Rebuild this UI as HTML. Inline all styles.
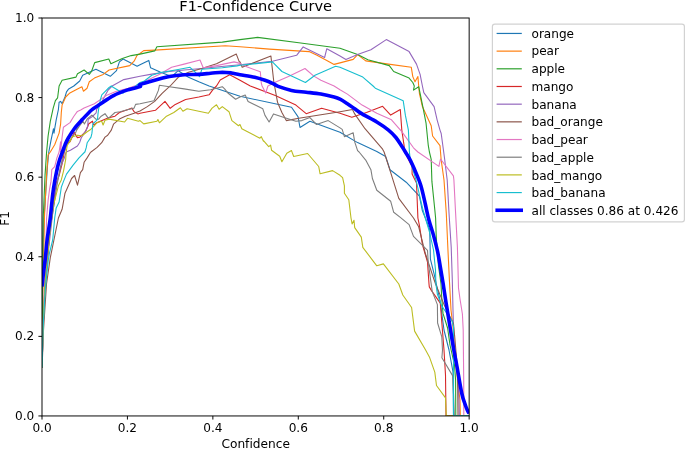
<!DOCTYPE html>
<html lang="en"><head><meta charset="utf-8"><title>F1-Confidence Curve</title>
<style>html,body{margin:0;padding:0;background:#fff;}body{width:685px;height:449px;overflow:hidden;}svg{display:block;}text{font-family:"DejaVu Sans","Liberation Sans",sans-serif;fill:#000;font-variant-ligatures:none;font-feature-settings:"liga" 0,"clig" 0;}</style></head><body>
<svg width="685" height="449" viewBox="0 0 685 449">
<rect width="685" height="449" fill="#fff"/>
<defs><clipPath id="ax"><rect x="42.00" y="18.00" width="427.15" height="397.95"/></clipPath></defs>
<g clip-path="url(#ax)" fill="none" stroke-linejoin="round" stroke-linecap="square">
<polyline points="42.1,367.0 42.3,330.0 42.7,284.0 43.4,240.0 44.0,218.0 44.1,218.0 47.4,166.7 48.8,152.0 48.8,152.0 51.0,140.4 53.5,128.7 54.0,133.1 54.7,128.7 56.2,119.8 58.4,109.5 59.1,102.2 60.6,101.4 62.1,103.7 65.0,97.0 66.5,91.9 68.7,88.9 73.8,86.0 73.8,86.0 79.7,81.0 82.7,75.2 95.9,69.3 110.3,76.3 116.5,70.7 119.4,61.9 123.1,59.0 137.1,66.3 140.0,64.8 148.8,60.4 150.6,67.8 160.6,72.2 171.6,76.6 178.2,70.7 188.5,77.3 198.8,81.8 209.1,86.0 240.0,96.3 291.5,107.3 298.1,116.9 300.0,127.5 309.9,121.3 340.0,132.3 357.6,142.6 376.8,151.4 385.6,156.4 390.0,169.7 406.2,182.2 419.4,196.1 422.4,210.8 425.3,218.0 429.7,229.8 430.4,259.2 434.1,273.9 436.3,284.0 440.0,300.0 444.0,330.0 449.0,350.0 453.0,372.0 453.5,415.9 469.1,415.9" stroke="#1f77b4" stroke-width="1.1"/>
<polyline points="42.1,367.0 42.4,330.0 43.0,284.0 44.0,240.0 44.4,218.0 44.4,218.0 46.6,174.1 48.1,154.9 50.3,152.0 50.3,152.0 54.7,144.8 59.1,133.1 60.6,124.2 61.3,112.5 62.1,105.1 65.7,97.0 69.4,93.3 77.5,88.9 81.9,86.7 83.4,91.2 87.1,88.2 87.8,86.0 87.8,86.0 89.3,81.8 94.4,78.1 103.2,74.4 109.1,70.0 129.7,65.6 134.1,61.2 137.1,55.3 140.0,53.5 143.7,50.6 154.7,50.1 225.3,45.7 240.0,46.8 269.4,49.1 309.1,51.6 316.5,55.0 326.8,60.4 334.1,64.4 340.0,62.9 353.2,59.4 357.6,54.6 365.7,60.9 388.5,64.1 411.3,67.3 412.8,76.6 415.0,81.8 417.9,76.6 418.7,86.0 419.4,93.3 422.4,106.6 431.2,125.7 432.6,136.0 440.0,145.6 441.2,160.2 444.0,180.0 446.3,213.4 447.8,246.8 449.4,280.0 451.0,310.0 453.0,327.0 454.0,345.0 457.5,380.0 460.0,400.0 460.3,415.9 469.1,415.9" stroke="#ff7f0e" stroke-width="1.1"/>
<polyline points="42.1,367.0 42.2,330.0 42.4,284.0 42.8,240.0 43.2,218.0 43.2,218.0 45.1,174.1 46.6,152.0 46.6,152.0 48.1,136.0 50.3,121.3 53.2,108.1 55.4,100.7 57.6,97.8 59.1,86.0 59.1,86.0 62.1,80.3 76.0,77.1 77.5,73.7 84.1,70.0 89.3,74.4 91.5,71.5 94.7,62.6 108.8,59.0 110.9,63.7 122.3,58.5 131.2,55.6 140.0,54.1 154.7,50.9 156.9,46.8 222.3,42.1 240.0,39.6 257.6,37.4 298.8,42.8 340.0,48.2 357.6,54.6 367.9,59.7 389.3,65.6 393.7,71.5 409.1,78.1 412.8,82.5 414.3,86.0 413.5,90.1 418.7,86.7 420.1,93.3 423.1,108.1 426.0,122.8 428.2,144.8 429.4,152.0 431.2,159.3 431.9,181.4 434.9,210.8 435.6,218.0 436.2,235.6 437.2,251.0 438.5,266.0 441.0,284.0 441.8,298.7 443.0,313.4 447.6,328.0 450.0,345.0 454.5,365.0 455.6,380.0 455.8,415.9 469.1,415.9" stroke="#2ca02c" stroke-width="1.1"/>
<polyline points="42.1,367.0 43.0,330.0 45.0,284.0 50.0,230.0 56.0,185.0 56.2,182.9 59.1,175.5 62.1,163.8 64.3,152.0 67.2,143.3 67.6,143.2 70.0,141.8 74.2,132.4 77.4,137.6 79.8,137.1 84.9,132.4 87.7,126.8 88.6,124.0 92.4,121.2 93.8,125.0 96.1,123.1 105.0,119.3 109.1,117.6 115.0,116.2 119.4,112.5 128.2,109.5 131.9,108.1 134.1,111.7 137.8,113.9 140.0,113.2 155.4,110.3 165.0,101.4 170.2,108.3 175.3,104.4 185.6,99.5 198.8,97.0 209.1,94.8 213.5,88.9 216.5,86.0 220.2,80.0 229.7,74.7 240.0,80.3 250.3,86.0 275.3,95.6 295.9,105.1 306.2,113.7 321.6,108.3 340.0,113.2 351.8,117.2 366.5,112.5 382.6,106.3 390.7,115.1 400.3,109.5 401.8,130.1 404.0,144.8 404.7,152.0 412.1,166.7 412.1,174.1 416.5,182.9 417.2,200.5 417.9,218.0 419.4,225.3 422.4,244.5 427.5,262.1 429.0,284.0 429.3,286.9 431.5,290.6 440.3,303.1 441.8,322.2 444.0,350.0 445.5,375.0 446.0,415.9 469.1,415.9" stroke="#d62728" stroke-width="1.1"/>
<polyline points="42.1,367.0 43.0,330.0 45.0,290.0 48.5,250.0 52.5,215.0 56.5,185.0 60.5,167.0 64.3,158.0 66.2,152.0 70.4,150.2 77.4,146.0 79.8,142.2 81.2,138.0 84.0,133.4 86.3,130.1 87.7,125.9 88.2,119.3 92.4,116.5 96.1,112.8 96.6,110.0 96.6,109.5 101.8,102.2 104.7,96.3 107.9,90.4 112.1,86.0 112.1,86.0 123.8,79.6 140.0,76.2 151.8,74.1 169.4,71.5 184.1,70.0 198.8,68.8 213.5,67.3 240.0,64.8 272.4,61.2 296.6,55.3 303.2,46.9 324.6,57.5 326.8,48.7 340.0,56.0 345.9,59.4 357.6,54.6 370.9,49.7 386.3,39.6 409.1,51.6 416.5,64.1 420.1,74.4 422.4,86.0 423.8,92.6 434.1,106.6 437.1,119.8 440.0,130.1 441.2,133.5 444.5,158.0 447.2,180.0 449.0,213.0 451.2,247.0 452.3,280.0 453.0,310.0 454.0,345.0 458.0,380.0 459.0,400.0 459.3,415.9 469.1,415.9" stroke="#9467bd" stroke-width="1.1"/>
<polyline points="42.1,367.0 43.5,330.0 46.5,284.0 50.3,257.7 58.4,218.0 58.4,218.0 62.1,209.3 65.0,193.2 71.6,178.5 74.6,175.5 77.5,185.1 80.4,172.6 82.7,169.7 84.1,162.3 87.1,157.9 90.7,152.0 90.7,152.0 91.0,152.0 97.1,147.4 101.7,142.7 105.0,137.1 107.7,135.3 111.3,130.1 113.5,124.2 119.4,119.1 125.3,116.2 134.1,113.2 140.0,111.0 147.3,106.6 154.7,101.4 162.1,93.3 169.4,86.7 170.2,86.0 178.2,77.3 188.5,72.2 201.8,68.5 216.5,63.8 236.3,54.1 239.3,61.9 240.0,61.9 242.2,67.3 270.9,56.0 273.8,81.8 274.6,86.0 277.5,102.2 281.9,112.5 286.3,120.6 298.8,118.3 340.0,111.7 352.5,109.5 354.7,113.9 365.0,128.7 382.6,149.2 384.1,152.0 390.7,172.6 398.8,198.3 413.5,218.0 418.7,226.8 425.3,253.3 434.1,279.8 435.6,284.0 437.4,288.4 444.7,306.1 453.5,323.7 455.0,340.0 457.5,370.0 458.0,415.9 469.1,415.9" stroke="#8c564b" stroke-width="1.1"/>
<polyline points="42.1,367.0 43.0,330.0 44.5,284.0 45.9,247.4 46.6,218.0 46.6,218.0 48.1,200.5 49.6,188.8 51.0,181.4 51.8,169.7 54.7,166.7 56.9,157.9 59.1,152.0 59.1,152.0 60.6,141.9 60.6,152.0 62.0,138.0 63.4,127.3 70.0,122.6 73.7,116.5 77.4,111.4 80.7,110.0 84.1,108.1 94.4,103.7 106.2,95.6 116.5,91.2 128.2,88.2 140.0,84.0 147.3,80.3 159.1,74.4 171.6,67.3 184.1,64.1 200.0,60.0 203.2,67.8 216.5,65.6 234.1,61.9 240.0,63.4 247.3,67.1 260.3,71.8 261.3,83.2 262.1,86.0 265.7,93.1 267.9,86.0 274.6,82.5 288.5,76.6 305.0,68.5 313.5,75.9 320.9,80.3 334.1,86.0 340.0,89.7 347.4,94.1 362.1,105.1 376.8,113.2 391.5,119.8 401.8,131.6 413.5,147.8 417.9,152.0 438.9,166.4 440.5,159.0 453.4,175.8 453.9,180.0 455.6,213.0 457.4,247.0 458.3,280.0 458.5,288.0 460.0,299.0 462.4,314.0 463.2,330.0 463.4,350.0 463.7,380.0 463.8,415.9 469.1,415.9" stroke="#e377c2" stroke-width="1.1"/>
<polyline points="42.1,367.0 43.0,330.0 45.0,284.0 50.0,230.0 57.0,185.0 63.0,155.0 67.9,141.9 69.0,140.8 70.4,139.9 73.2,135.7 76.0,132.0 77.0,127.8 76.7,130.1 79.5,125.9 83.0,121.2 84.4,124.0 87.2,118.9 91.9,115.1 96.1,119.3 98.5,119.3 100.8,116.5 105.0,113.7 108.4,118.3 115.0,112.5 120.2,111.7 128.2,109.5 134.1,108.1 135.6,104.4 140.0,103.7 154.0,100.7 158.4,90.4 159.4,85.3 169.4,86.7 184.1,88.9 198.8,91.2 210.6,89.7 222.3,86.7 224.6,88.9 228.2,93.3 235.6,99.2 240.0,97.0 245.2,95.1 248.1,101.4 262.8,108.8 265.0,115.4 269.1,122.0 273.5,113.9 284.1,117.6 295.9,121.3 301.8,120.6 309.9,117.6 316.5,124.5 328.2,120.6 340.0,127.9 342.2,129.4 344.4,136.7 353.2,132.8 354.7,141.9 357.6,150.7 359.1,152.0 365.7,160.1 370.9,169.7 372.4,178.5 376.8,190.2 390.7,201.3 393.7,212.3 400.3,217.4 409.1,224.6 413.5,236.4 427.5,250.3 428.2,262.1 431.2,284.0 432.2,291.4 437.4,304.6 437.6,323.0 441.8,336.9 442.5,350.0 441.9,357.8 452.6,375.6 453.5,393.5 454.4,415.9 469.1,415.9" stroke="#7f7f7f" stroke-width="1.1"/>
<polyline points="42.1,367.0 43.0,330.0 45.0,284.0 49.0,240.0 53.2,206.4 55.4,197.6 58.4,185.8 61.3,179.9 63.5,171.1 65.7,159.3 66.2,152.0 67.2,145.5 70.4,140.8 71.8,137.1 77.4,135.2 82.1,135.7 86.8,132.0 91.0,129.2 94.2,125.9 96.6,123.1 99.9,121.7 101.7,121.2 103.1,125.0 105.0,120.3 109.1,119.1 124.6,122.0 127.5,118.3 138.5,121.3 140.0,120.6 143.7,123.9 156.9,121.3 157.9,119.5 159.4,122.8 166.5,116.2 173.8,112.5 180.4,107.8 182.9,111.3 187.1,108.8 198.8,111.3 208.4,113.2 212.1,108.1 216.5,104.8 219.1,109.2 222.3,106.6 229.0,111.7 231.9,120.6 238.5,125.7 240.0,124.5 241.8,128.7 259.9,138.2 261.3,136.7 263.5,141.2 263.5,140.7 268.7,146.6 270.6,145.2 271.6,150.3 279.7,156.2 281.9,161.8 286.8,153.2 291.5,150.6 293.7,156.5 307.6,153.5 318.7,166.5 320.1,173.8 332.6,170.6 340.0,175.3 342.6,177.7 344.4,185.8 344.4,193.2 348.8,199.8 351.0,218.0 352.1,223.9 354.0,220.2 354.7,227.6 361.3,237.1 362.8,247.4 376.8,265.8 383.4,263.9 398.8,284.0 402.8,295.0 411.6,307.5 414.6,331.1 425.6,350.0 429.4,356.9 434.8,372.1 436.5,385.5 445.5,397.9 446.3,415.9 469.1,415.9" stroke="#bcbd22" stroke-width="1.1"/>
<polyline points="42.1,367.0 43.0,330.0 45.2,290.0 47.2,270.0 48.3,260.0 49.4,253.4 52.7,240.0 54.7,218.0 54.7,218.0 56.2,207.9 59.1,202.0 61.3,187.3 63.5,181.4 66.5,174.1 73.1,165.2 79.0,157.9 84.8,152.0 84.8,152.0 84.9,152.0 86.3,147.4 87.2,142.7 91.0,137.1 91.9,133.4 92.4,128.7 92.8,124.0 96.1,120.8 97.5,119.3 98.0,113.7 98.5,110.0 100.3,100.0 101.8,94.8 109.1,87.5 111.3,86.0 113.5,87.5 123.1,93.3 124.6,91.2 131.2,89.7 140.0,82.5 144.4,81.0 151.8,75.2 159.1,72.9 176.8,69.7 190.0,67.3 195.2,72.2 199.6,76.6 201.8,69.3 222.3,67.8 237.1,65.9 240.0,65.3 272.4,61.9 281.9,71.5 305.4,82.5 315.0,75.2 335.6,66.3 340.0,67.3 362.8,77.1 373.1,86.0 375.3,88.2 403.2,100.7 405.4,115.4 408.4,130.1 409.4,152.0 409.9,156.4 411.5,165.0 416.0,180.0 423.0,210.0 429.5,232.0 433.5,250.0 435.5,270.0 435.9,284.0 437.4,294.3 441.8,306.1 452.1,320.8 453.5,326.6 453.5,340.0 453.5,415.9 469.1,415.9" stroke="#17becf" stroke-width="1.1"/>
<path d="M42.0,286.5 C42.2,284.3 42.8,278.5 43.4,273.5 C44.0,268.5 44.9,262.3 45.5,256.7 C46.1,251.1 46.3,246.4 47.1,240.0 C47.9,233.6 49.4,225.3 50.3,218.0 C51.2,210.7 51.8,202.2 52.5,196.1 C53.2,190.0 53.7,186.8 54.7,181.4 C55.7,176.0 57.1,168.7 58.4,163.8 C59.7,158.9 61.2,155.2 62.4,152.0 C63.5,148.8 64.1,146.9 65.1,144.6 C66.1,142.3 66.7,140.7 68.3,138.0 C69.8,135.4 72.0,131.8 74.3,128.7 C76.7,125.6 79.6,122.5 82.5,119.3 C85.4,116.2 88.9,112.4 91.6,110.0 C94.4,107.6 95.2,107.5 98.8,105.1 C102.5,102.7 108.6,98.1 113.5,95.6 C118.4,93.0 123.8,91.2 128.2,89.7 C132.7,88.2 138.0,87.6 140.0,86.7 C142.0,85.9 137.5,85.8 140.0,84.7 C142.5,83.6 149.8,81.6 154.7,80.3 C159.6,78.9 164.5,77.6 169.4,76.6 C174.3,75.7 179.2,75.1 184.1,74.7 C189.0,74.3 194.4,74.7 198.8,74.4 C203.2,74.2 206.7,73.6 210.6,73.2 C214.5,72.9 218.9,72.3 222.3,72.2 C225.8,72.2 228.2,72.5 231.2,72.9 C234.1,73.4 236.1,74.0 240.0,74.7 C243.9,75.4 250.5,76.4 254.7,77.3 C258.9,78.3 261.8,79.2 265.0,80.3 C268.2,81.4 271.6,83.0 273.8,84.0 C276.0,85.0 275.3,85.3 278.2,86.4 C281.2,87.5 286.8,89.4 291.5,90.4 C296.1,91.4 301.3,91.6 306.2,92.2 C311.1,92.8 316.2,93.3 320.9,94.1 C325.5,94.9 330.9,96.2 334.1,97.0 C337.3,97.9 337.8,98.1 340.0,99.2 C342.2,100.3 344.9,102.1 347.4,103.7 C349.8,105.2 352.3,107.1 354.7,108.8 C357.2,110.5 358.4,111.7 362.1,113.9 C365.7,116.1 372.3,119.3 376.8,122.0 C381.2,124.7 385.3,127.5 388.5,130.1 C391.7,132.7 393.7,134.8 395.9,137.5 C398.1,140.2 400.2,143.9 401.8,146.3 C403.4,148.7 404.0,149.6 405.4,152.0 C406.9,154.5 408.8,157.1 410.6,160.8 C412.4,164.5 414.8,169.9 416.5,174.1 C418.2,178.2 419.4,180.8 420.9,185.8 C422.4,190.8 424.0,198.3 425.3,204.0 C426.6,209.7 427.5,214.7 428.9,220.0 C430.3,225.3 432.2,230.4 433.6,235.6 C435.0,240.8 436.4,246.0 437.5,251.2 C438.6,256.4 439.4,261.2 440.3,266.7 C441.2,272.2 442.1,277.4 443.2,284.0 C444.2,290.6 445.4,298.7 446.6,306.0 C447.8,313.3 449.1,321.2 450.2,328.0 C451.3,334.8 452.2,340.6 453.3,347.0 C454.4,353.4 455.6,358.9 457.0,366.7 C458.4,374.4 460.4,387.0 461.8,393.5 C463.2,400.0 464.5,402.6 465.5,405.5 C466.5,408.4 467.0,409.4 467.6,410.8 C468.2,412.2 468.9,413.1 469.1,413.6" stroke="#0000ff" stroke-width="3.6" stroke-linecap="butt"/>
</g>
<rect x="42.00" y="18.00" width="427.15" height="397.95" fill="none" stroke="#000" stroke-width="0.96"/>
<line x1="42.00" y1="415.95" x2="42.00" y2="419.55" stroke="#000" stroke-width="0.96"/>
<line x1="42.00" y1="415.95" x2="38.40" y2="415.95" stroke="#000" stroke-width="0.96"/>
<text x="42.00" y="432.4" font-size="12.1" text-anchor="middle">0.0</text>
<text x="34.3" y="420.05" font-size="12.1" text-anchor="end">0.0</text>
<line x1="127.43" y1="415.95" x2="127.43" y2="419.55" stroke="#000" stroke-width="0.96"/>
<line x1="42.00" y1="336.36" x2="38.40" y2="336.36" stroke="#000" stroke-width="0.96"/>
<text x="127.43" y="432.4" font-size="12.1" text-anchor="middle">0.2</text>
<text x="34.3" y="340.46" font-size="12.1" text-anchor="end">0.2</text>
<line x1="212.86" y1="415.95" x2="212.86" y2="419.55" stroke="#000" stroke-width="0.96"/>
<line x1="42.00" y1="256.77" x2="38.40" y2="256.77" stroke="#000" stroke-width="0.96"/>
<text x="212.86" y="432.4" font-size="12.1" text-anchor="middle">0.4</text>
<text x="34.3" y="260.87" font-size="12.1" text-anchor="end">0.4</text>
<line x1="298.29" y1="415.95" x2="298.29" y2="419.55" stroke="#000" stroke-width="0.96"/>
<line x1="42.00" y1="177.18" x2="38.40" y2="177.18" stroke="#000" stroke-width="0.96"/>
<text x="298.29" y="432.4" font-size="12.1" text-anchor="middle">0.6</text>
<text x="34.3" y="181.28" font-size="12.1" text-anchor="end">0.6</text>
<line x1="383.72" y1="415.95" x2="383.72" y2="419.55" stroke="#000" stroke-width="0.96"/>
<line x1="42.00" y1="97.59" x2="38.40" y2="97.59" stroke="#000" stroke-width="0.96"/>
<text x="383.72" y="432.4" font-size="12.1" text-anchor="middle">0.8</text>
<text x="34.3" y="101.69" font-size="12.1" text-anchor="end">0.8</text>
<line x1="469.15" y1="415.95" x2="469.15" y2="419.55" stroke="#000" stroke-width="0.96"/>
<line x1="42.00" y1="18.00" x2="38.40" y2="18.00" stroke="#000" stroke-width="0.96"/>
<text x="469.15" y="432.4" font-size="12.1" text-anchor="middle">1.0</text>
<text x="34.3" y="22.10" font-size="12.1" text-anchor="end">1.0</text>
<text x="255.7" y="11.3" font-size="14.6" text-anchor="middle">F1-Confidence Curve</text>
<text x="255.7" y="447.6" font-size="12.2" text-anchor="middle">Confidence</text>
<text transform="translate(9.2,218.4) rotate(-90)" font-size="12" text-anchor="middle">F1</text>
<rect x="492.4" y="24.1" width="192" height="197.8" rx="2.4" ry="2.4" fill="#fff" fill-opacity="0.8" stroke="#d2d2d2" stroke-width="1.2"/>
<line x1="497.2" y1="33.45" x2="521.2" y2="33.45" stroke="#1f77b4" stroke-width="1.2" stroke-linecap="square"/>
<text x="531.5" y="37.65" font-size="12.1">orange</text>
<line x1="497.2" y1="51.13" x2="521.2" y2="51.13" stroke="#ff7f0e" stroke-width="1.2" stroke-linecap="square"/>
<text x="531.5" y="55.39" font-size="12.1">pear</text>
<line x1="497.2" y1="68.81" x2="521.2" y2="68.81" stroke="#2ca02c" stroke-width="1.2" stroke-linecap="square"/>
<text x="531.5" y="73.13" font-size="12.1">apple</text>
<line x1="497.2" y1="86.49" x2="521.2" y2="86.49" stroke="#d62728" stroke-width="1.2" stroke-linecap="square"/>
<text x="531.5" y="90.87" font-size="12.1">mango</text>
<line x1="497.2" y1="104.17" x2="521.2" y2="104.17" stroke="#9467bd" stroke-width="1.2" stroke-linecap="square"/>
<text x="531.5" y="108.61" font-size="12.1">banana</text>
<line x1="497.2" y1="121.85" x2="521.2" y2="121.85" stroke="#8c564b" stroke-width="1.2" stroke-linecap="square"/>
<text x="531.5" y="126.35" font-size="12.1">bad_orange</text>
<line x1="497.2" y1="139.53" x2="521.2" y2="139.53" stroke="#e377c2" stroke-width="1.2" stroke-linecap="square"/>
<text x="531.5" y="144.09" font-size="12.1">bad_pear</text>
<line x1="497.2" y1="157.21" x2="521.2" y2="157.21" stroke="#7f7f7f" stroke-width="1.2" stroke-linecap="square"/>
<text x="531.5" y="161.83" font-size="12.1">bad_apple</text>
<line x1="497.2" y1="174.89" x2="521.2" y2="174.89" stroke="#bcbd22" stroke-width="1.2" stroke-linecap="square"/>
<text x="531.5" y="179.57" font-size="12.1">bad_mango</text>
<line x1="497.2" y1="192.57" x2="521.2" y2="192.57" stroke="#17becf" stroke-width="1.2" stroke-linecap="square"/>
<text x="531.5" y="197.31" font-size="12.1">bad_banana</text>
<line x1="497.2" y1="210.25" x2="521.2" y2="210.25" stroke="#0000ff" stroke-width="3.6" stroke-linecap="square"/>
<text x="531.5" y="215.15" font-size="12.1">all classes 0.86 at 0.426</text>
</svg></body></html>
